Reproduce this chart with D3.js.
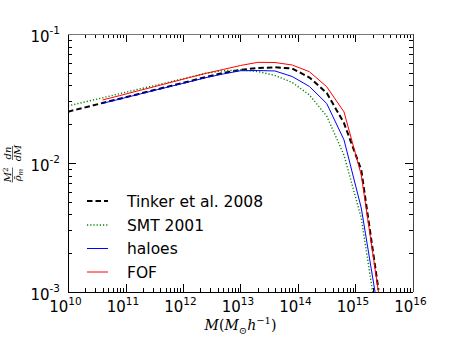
<!DOCTYPE html>
<html>
<head>
<meta charset="utf-8">
<script src="https://cdn.jsdelivr.net/npm/d3@7"></script>
<style>
  body { margin: 0; background: #fff; }
  svg { display: block; }
</style>
</head>
<body>
<svg></svg>
<script>
// mass grid (M_sun/h)
var massAll = [1.0e10, 2.0e10, 3.98e10, 7.94e10, 1.58e11, 3.16e11, 6.31e11, 1.26e12, 2.51e12, 5.01e12,
               1.0e13, 2.0e13, 3.98e13, 7.94e13, 1.58e14, 3.16e14, 6.31e14, 1.26e15, 2.51e15];
var massSim = massAll.slice(2);

var tinker = [0.0250, 0.0270, 0.0292, 0.0315, 0.0340, 0.0368, 0.0397, 0.0429, 0.0464, 0.0499,
              0.0528, 0.0545, 0.0552, 0.0540, 0.0460, 0.0349, 0.0204, 0.00882, 0.00104];
var smt = [0.0277, 0.0298, 0.0320, 0.0345, 0.0371, 0.0398, 0.0428, 0.0461, 0.0496, 0.0519,
           0.0526, 0.0512, 0.0477, 0.0421, 0.0337, 0.0231, 0.0115, 0.00375, 0.000507];
var haloes = [0.0290, 0.0313, 0.0338, 0.0365, 0.0394, 0.0425, 0.0459, 0.0490, 0.0519,
              0.0521, 0.0517, 0.0468, 0.0392, 0.0289, 0.0151, 0.00448, 0.000688];
var fof = [0.0308, 0.0333, 0.0361, 0.0390, 0.0423, 0.0458, 0.0496, 0.0531, 0.0570,
           0.0603, 0.0601, 0.0575, 0.0510, 0.0390, 0.0249, 0.00807, 0.00100];

var xExponents = [10, 11, 12, 13, 14, 15, 16];
var yExponents = [-1, -2, -3];
var legendLabels = ["Tinker et al. 2008", "SMT 2001", "haloes", "FOF"];

var svgWidth = 458, svgHeight = 343;
var margin = { top: 34, right: 45, bottom: 51, left: 68 };
var width = svgWidth - margin.left - margin.right;
var height = svgHeight - margin.top - margin.bottom;

var svg = d3.select("svg")
  .attr("width", svgWidth)
  .attr("height", svgHeight);

svg.append("rect").attr("width", svgWidth).attr("height", svgHeight).attr("fill", "#fff");

var g = svg.append("g")
  .attr("transform", "translate(" + margin.left + "," + margin.top + ")");

var x = d3.scaleLog().domain([1e10, 1e16]).range([0, width]);
var y = d3.scaleLog().domain([1e-3, 1e-1]).range([height, 0]);

g.append("clipPath").attr("id", "clip")
  .append("rect").attr("width", width).attr("height", height);

var series = [
  { mass: massAll, f: tinker, color: "#000", w: 2, dash: "5.5,3" },
  { mass: massAll, f: smt, color: "#008000", w: 1.4, dash: "1.2,2" },
  { mass: massSim, f: haloes, color: "#0000ff", w: 1, dash: null },
  { mass: massSim, f: fof, color: "#ff0000", w: 1, dash: null }
];

var line = d3.line()
  .x(function(d) { return x(d[0]); })
  .y(function(d) { return y(d[1]); });

var curves = g.append("g").attr("clip-path", "url(#clip)");
series.forEach(function(s) {
  curves.append("path")
    .datum(d3.zip(s.mass, s.f))
    .attr("fill", "none")
    .attr("stroke", s.color)
    .attr("stroke-width", s.w)
    .attr("stroke-dasharray", s.dash)
    .attr("d", line);
});

// ticks, inward on all four sides
var xMinor = x.ticks(60), yMinor = y.ticks(30);
function isMajor(v) { return Math.abs(Math.log10(v) - Math.round(Math.log10(v))) < 1e-6; }

var ticks = g.append("g").attr("stroke", "#000").attr("stroke-width", 1);
xMinor.forEach(function(v) {
  var px = Math.round(x(v)) + 0.5, len = isMajor(v) ? 8 : 4;
  ticks.append("line").attr("x1", px).attr("x2", px).attr("y1", height).attr("y2", height - len);
  ticks.append("line").attr("x1", px).attr("x2", px).attr("y1", 0).attr("y2", len);
});
yMinor.forEach(function(v) {
  var py = Math.round(y(v)) + 0.5, len = isMajor(v) ? 8 : 4;
  ticks.append("line").attr("x1", 0).attr("x2", len).attr("y1", py).attr("y2", py);
  ticks.append("line").attr("x1", width).attr("x2", width - len).attr("y1", py).attr("y2", py);
});

// frame
g.append("line").attr("x1", 0.5).attr("x2", 0.5).attr("y1", 0).attr("y2", height + 0.5).attr("stroke", "#000");
g.append("line").attr("x1", 0).attr("x2", width).attr("y1", height + 0.5).attr("y2", height + 0.5).attr("stroke", "#000");
g.append("line").attr("x1", 0).attr("x2", width).attr("y1", 0.5).attr("y2", 0.5).attr("stroke", "#777");
g.append("line").attr("x1", width + 0.5).attr("x2", width + 0.5).attr("y1", 0).attr("y2", height).attr("stroke", "#444");

// tick labels
xExponents.forEach(function(e) {
  var t = g.append("text")
    .attr("x", x(Math.pow(10, e)) - 2.5)
    .attr("y", height + 20)
    .attr("text-anchor", "middle")
    .attr("font-family", "DejaVu Sans")
    .attr("font-size", 15);
  t.append("tspan").text("10");
  t.append("tspan").attr("dy", -7.5).attr("font-size", 10.5).text(e);
});
yExponents.forEach(function(e) {
  var t = g.append("text")
    .attr("x", -8)
    .attr("y", y(Math.pow(10, e)) + 8)
    .attr("text-anchor", "end")
    .attr("font-family", "DejaVu Sans")
    .attr("font-size", 15);
  t.append("tspan").text("10");
  t.append("tspan").attr("dy", -8).attr("font-size", 10.5).text("-" + Math.abs(e));
});

// x label: M(M_sun h^-1)
var xl = svg.append("text")
  .attr("x", margin.left + width / 2)
  .attr("y", 330)
  .attr("text-anchor", "middle")
  .attr("font-family", "DejaVu Serif")
  .attr("font-style", "italic")
  .attr("font-size", 14);
xl.append("tspan").text("M");
xl.append("tspan").attr("font-style", "normal").text("(");
xl.append("tspan").text("M");
xl.append("tspan").attr("dy", 4).attr("font-size", 10).attr("font-style", "normal").text("\u2299");
xl.append("tspan").attr("dy", -4).text("h");
xl.append("tspan").attr("dy", -6).attr("font-size", 10).attr("font-style", "normal").text("\u22121");
xl.append("tspan").attr("dy", 6).attr("font-style", "normal").text(")");

// y label: (M^2 / rho_m) (dn / dM), rotated
var yl = svg.append("g")
  .attr("transform", "translate(12.5,164) rotate(-90)")
  .attr("font-family", "DejaVu Serif")
  .attr("font-style", "italic")
  .attr("font-size", 10);
var fracs = [
  { cx: -11, num: ["M", "2"], den: ["\u03C1\u0304", "m"], w: 15 },
  { cx: 11, num: ["dn", ""], den: ["dM", ""], w: 14 }
];
fracs.forEach(function(f) {
  var n = yl.append("text").attr("x", f.cx).attr("y", -2).attr("text-anchor", "middle");
  n.append("tspan").text(f.num[0]);
  if (f.num[1]) n.append("tspan").attr("dy", -3).attr("font-size", 7).attr("font-style", "normal").text(f.num[1]);
  var d = yl.append("text").attr("x", f.cx).attr("y", 8.5).attr("text-anchor", "middle");
  d.append("tspan").text(f.den[0]);
  if (f.den[1]) d.append("tspan").attr("dy", 2).attr("font-size", 7).text(f.den[1]);
  yl.append("line")
    .attr("x1", f.cx - f.w / 2).attr("x2", f.cx + f.w / 2)
    .attr("y1", 0).attr("y2", 0)
    .attr("stroke", "#000").attr("stroke-width", 0.6);
});

// legend
var legendY = [201, 225, 248.5, 272];
var legend = svg.append("g");
series.forEach(function(s, i) {
  legend.append("line")
    .attr("x1", 87).attr("x2", 108)
    .attr("y1", legendY[i]).attr("y2", legendY[i])
    .attr("stroke", s.color)
    .attr("stroke-width", s.w)
    .attr("stroke-dasharray", s.dash);
  legend.append("text")
    .attr("x", 127)
    .attr("y", legendY[i] + 5.5)
    .attr("font-family", "DejaVu Sans")
    .attr("font-size", 15.5)
    .text(legendLabels[i]);
});
</script>
</body>
</html>
